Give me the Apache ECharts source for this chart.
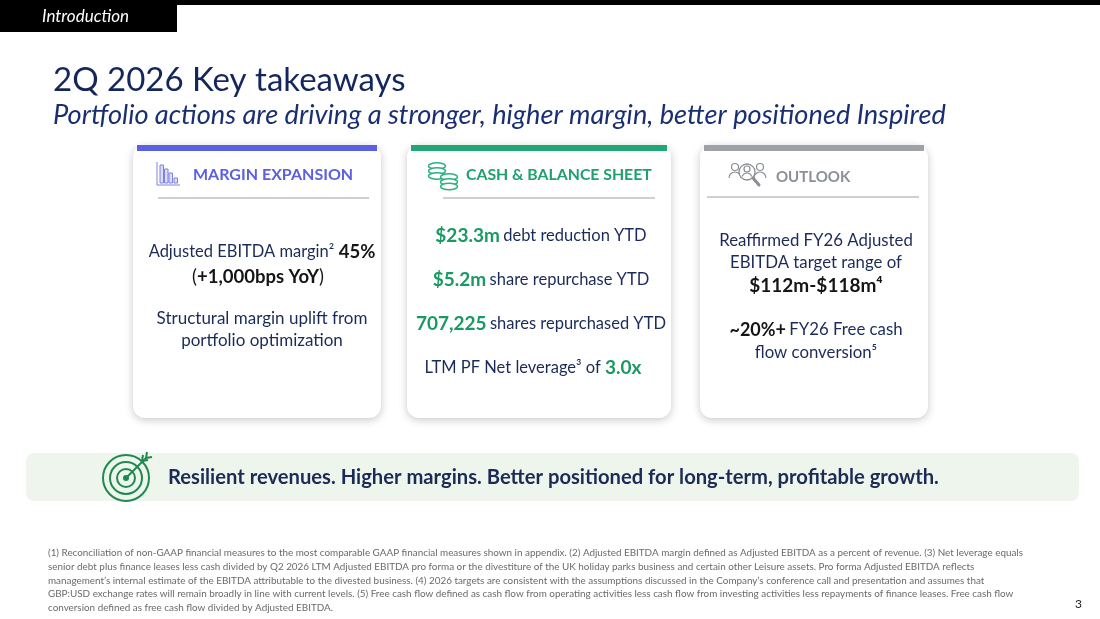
<!DOCTYPE html>
<html><head><meta charset="utf-8">
<script src="https://cdn.jsdelivr.net/npm/echarts@6/dist/echarts.min.js"></script>
<style>html,body{margin:0;padding:0;background:#fff}#c{width:1100px;height:619px}</style>
</head><body><div id="c"></div>
<script>
// ---- content data ----
var sectionLabel = 'Introduction';
var titleText = '2Q 2026 Key takeaways';
var subtitleText = 'Portfolio actions are driving a stronger, higher margin, better positioned Inspired';
var cardTitles = ['MARGIN EXPANSION', 'CASH & BALANCE SHEET', 'OUTLOOK'];
var cardAccent = ['#5b60e3', '#1fa874', '#9da1a8'];
var marginValue = '45%';
var marginChange = '+1,000bps YoY';
var marginNote = ['Structural margin uplift from', 'portfolio optimization'];
var cashValues = ['$23.3m', '$5.2m', '707,225'];
var cashLabels = ['debt reduction YTD', 'share repurchase YTD', 'shares repurchased YTD'];
var leverageValue = '3.0x';
var outlookRange = '$112m-$118m';
var outlookConversion = '~20%+';
var bannerText = 'Resilient revenues. Higher margins. Better positioned for long-term, profitable growth.';
var footnotes = [
 '(1) Reconciliation of non-GAAP financial measures to the most comparable GAAP financial measures shown in appendix. (2) Adjusted EBITDA margin defined as Adjusted EBITDA as a percent of revenue. (3) Net leverage equals',
 'senior debt plus finance leases less cash divided by Q2 2026 LTM Adjusted EBITDA pro forma or the divestiture of the UK holiday parks business and certain other Leisure assets. Pro forma Adjusted EBITDA reflects',
 'management\u2019s internal estimate of the EBITDA attributable to the divested business. (4) 2026 targets are consistent with the assumptions discussed in the Company\u2019s conference call and presentation and assumes that',
 'GBP:USD exchange rates will remain broadly in line with current levels. (5) Free cash flow defined as cash flow from operating activities less cash flow from investing activities less repayments of finance leases. Free cash flow',
 'conversion defined as free cash flow divided by Adjusted EBITDA.'
];
var pageNumber = '3';

// ---- layout ----
var F = 'Lato, "Open Sans", sans-serif';
var NAVY = '#1b2b58';
var GREEN = '#1a9a62';
var BLACK = '#151515';
var cards = [
  {x:133, w:248},
  {x:407, w:264},
  {x:700, w:228}
];
var g = [];
function txt(x, y, text, font, fill, align){
  g.push({type:'text', x:x, y:y, z:10, style:{text:text, font:font, fill:fill, textAlign:align||'left', textVerticalAlign:'middle'}});
}
function rich(x, y, text, richDef){
  g.push({type:'text', x:x, y:y, z:10, style:{text:text, rich:richDef, textAlign:'center', textVerticalAlign:'middle'}});
}
// top bar
g.push({type:'rect', shape:{x:0,y:0,width:1100,height:5}, style:{fill:'#000'}});
g.push({type:'rect', shape:{x:0,y:0,width:177,height:32}, style:{fill:'#000'}});
txt(42, 17, sectionLabel, 'italic 17px '+F, '#fff');
// titles
txt(53, 80, titleText, '33px '+F, '#14275c');
txt(53, 115, subtitleText, 'italic 27.2px '+F, '#1a2f72');
// cards
cards.forEach(function(c, i){
  g.push({type:'rect', shape:{x:c.x,y:145,width:c.w,height:273,r:12}, z:1,
    style:{fill:'#fff', shadowBlur:8, shadowOffsetY:2, shadowColor:'rgba(0,0,0,0.22)'}});
  g.push({type:'rect', shape:{x:c.x+4,y:145,width:c.w-8,height:6}, z:2, style:{fill:cardAccent[i]}});
});
// dividers
g.push({type:'line', shape:{x1:158,y1:198,x2:369,y2:198}, style:{stroke:'#a0a0a0', lineWidth:1}, z:3});
g.push({type:'line', shape:{x1:443,y1:198,x2:655,y2:198}, style:{stroke:'#a0a0a0', lineWidth:1}, z:3});
g.push({type:'line', shape:{x1:707,y1:197,x2:919,y2:197}, style:{stroke:'#a0a0a0', lineWidth:1}, z:3});
// headers
txt(193, 175, cardTitles[0], 'bold 16px '+F, cardAccent[0]);
txt(466, 175, cardTitles[1], 'bold 15.8px '+F, '#1fa06e');
txt(776, 177, cardTitles[2], 'bold 15px '+F, '#8b9097');
// icon: bar chart
var ic = '#7f82de';
g.push({type:'polyline', shape:{points:[[157,162],[157,185],[180,185]]}, style:{stroke:ic, lineWidth:1, fill:null}, z:5});
[[160,165],[164.5,169],[169,173],[174,178]].forEach(function(b){
  g.push({type:'rect', shape:{x:b[0],y:b[1],width:3.5,height:183-b[1]}, style:{stroke:ic, lineWidth:1, fill:'#dcdcf5'}, z:5});
});
// icon: coins
var gc = '#2bb07f';
[[437,166],[437,171],[437,176],[449,177],[449,182],[449,186.5]].forEach(function(e){
  g.push({type:'ellipse', shape:{cx:e[0],cy:e[1],rx:8.5,ry:3.2}, style:{stroke:gc, lineWidth:1.5, fill:'#fff'}, z:5});
});
// icon: people / magnifier
var pc = '#8b8f95';
g.push({type:'circle', shape:{cx:735,cy:167,r:3.5}, style:{stroke:pc, fill:'#fff', lineWidth:1.2}, z:5});
g.push({type:'circle', shape:{cx:760,cy:167,r:3.5}, style:{stroke:pc, fill:'#fff', lineWidth:1.2}, z:5});
g.push({type:'arc', shape:{cx:735,cy:178,r:6,startAngle:Math.PI,endAngle:Math.PI*2}, style:{stroke:pc, fill:null, lineWidth:1.2}, z:5});
g.push({type:'arc', shape:{cx:760,cy:178,r:6,startAngle:Math.PI,endAngle:Math.PI*2}, style:{stroke:pc, fill:null, lineWidth:1.2}, z:5});
g.push({type:'circle', shape:{cx:747,cy:172,r:8}, style:{stroke:pc, fill:'#fff', lineWidth:1.3}, z:6});
g.push({type:'circle', shape:{cx:747,cy:169,r:3}, style:{stroke:pc, fill:'#fff', lineWidth:1.2}, z:7});
g.push({type:'arc', shape:{cx:747,cy:178,r:5,startAngle:Math.PI*1.1,endAngle:Math.PI*1.9}, style:{stroke:pc, fill:null, lineWidth:1.2}, z:7});
g.push({type:'line', shape:{x1:753,y1:178,x2:759,y2:185}, style:{stroke:pc, lineWidth:3, lineCap:'round'}, z:6});
// card 1 content
rich(262, 252, '{n|Adjusted EBITDA margin\u00b2}{b| '+marginValue+'}', {
  n:{font:'16.5px '+F, fill:NAVY}, b:{font:'bold 18.5px '+F, fill:BLACK}});
rich(258, 277, '{n|(}{b|'+marginChange+'}{n|)}', {
  n:{font:'18.5px '+F, fill:BLACK}, b:{font:'bold 18.5px '+F, fill:BLACK}});
txt(262, 319, marginNote[0], '17px '+F, NAVY, 'center');
txt(262, 341, marginNote[1], '17px '+F, NAVY, 'center');
// card 2 content
var cashY = [236, 280, 324];
cashValues.forEach(function(v, i){
  rich(541, cashY[i], '{g|'+v+'} {n|'+cashLabels[i]+'}', {
    g:{font:'bold 19px '+F, fill:GREEN}, n:{font:'16.5px '+F, fill:NAVY}});
});
rich(533, 368, '{n|LTM PF Net leverage\u00b3 of }{g|'+leverageValue+'}', {
  g:{font:'bold 19px '+F, fill:GREEN}, n:{font:'16.5px '+F, fill:NAVY}});
// card 3 content
txt(816, 241, 'Reaffirmed FY26 Adjusted', '16.8px '+F, NAVY, 'center');
txt(816, 263, 'EBITDA target range of', '16.8px '+F, NAVY, 'center');
txt(816, 286, outlookRange+'\u2074', 'bold 19px '+F, BLACK, 'center');
rich(816, 330, '{b|'+outlookConversion+'} {n|FY26 Free cash}', {
  b:{font:'bold 18px '+F, fill:BLACK}, n:{font:'16.8px '+F, fill:NAVY}});
txt(816, 353, 'flow conversion\u2075', '16.8px '+F, NAVY, 'center');
// banner
g.push({type:'rect', shape:{x:26,y:453,width:1053,height:48,r:8}, style:{fill:'#eef5ec'}, z:1});
var tg = '#1f8a4f';
[23,16,9].forEach(function(r){
  g.push({type:'circle', shape:{cx:126,cy:478,r:r}, style:{stroke:tg, fill:null, lineWidth:2}, z:5});
});
g.push({type:'circle', shape:{cx:126,cy:478,r:3}, style:{fill:tg}, z:5});
g.push({type:'line', shape:{x1:127,y1:477,x2:146,y2:458}, style:{stroke:tg, lineWidth:2}, z:6});
g.push({type:'polyline', shape:{points:[[143,455],[142,461],[148,460]]}, style:{stroke:tg, lineWidth:2, fill:null}, z:6});
g.push({type:'polyline', shape:{points:[[147,452],[146,458],[152,457]]}, style:{stroke:tg, lineWidth:2, fill:null}, z:6});
txt(168, 477, bannerText, 'bold 20.2px '+F, '#1b2b55');
// footnotes
footnotes.forEach(function(l, i){
  txt(48, 553 + i*13.7, l, '9.9px '+F, '#6a6a6a');
});
txt(1082, 604, pageNumber, '12px '+F, '#222', 'right');

var chart = echarts.init(document.getElementById('c'), null, {renderer:'canvas'});
chart.setOption({backgroundColor:'#fff', animation:false, graphic:{elements:g}});
</script>
</body></html>
